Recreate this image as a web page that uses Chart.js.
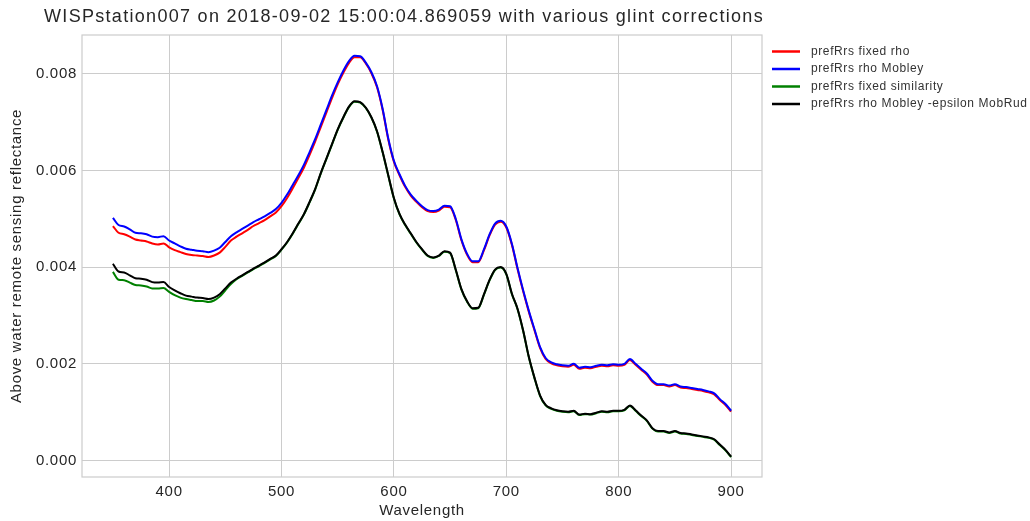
<!DOCTYPE html>
<html>
<head>
<meta charset="utf-8">
<script src="https://cdn.jsdelivr.net/npm/chart.js@4/dist/chart.umd.min.js"></script>
<style>
  html, body { margin: 0; padding: 0; background: #fff; }
  #wrap { width: 1030px; height: 521px; position: relative; }
</style>
</head>
<body>
<div id="wrap"><canvas id="chart"></canvas></div>
<script>
const TITLE = "WISPstation007 on 2018-09-02 15:00:04.869059 with various glint corrections";

const wavelength = [
  350, 355, 360, 365, 370, 375, 380, 385, 390, 395,
  400, 405, 410, 415, 420, 425, 430, 435, 440, 445,
  450, 455, 460, 465, 470, 475, 480, 485, 490, 495,
  500, 505, 510, 515, 520, 525, 530, 535, 540, 545,
  550, 555, 560, 565, 570, 575, 580, 585, 590, 595,
  600, 605, 610, 615, 620, 625, 630, 635, 640, 645,
  650, 655, 660, 665, 670, 675, 680, 685, 690, 695,
  700, 705, 710, 715, 720, 725, 730, 735, 740, 745,
  750, 755, 760, 765, 770, 775, 780, 785, 790, 795,
  800, 805, 810, 815, 820, 825, 830, 835, 840, 845,
  850, 855, 860, 865, 870, 875, 880, 885, 890, 895,
  900,
];

const fixedRho = [
  0.00485, 0.00471, 0.00468, 0.00463, 0.00457, 0.00455, 0.00453, 0.00449, 0.00447, 0.00449,
  0.00441, 0.00435, 0.00431, 0.00427, 0.00425, 0.00424, 0.00423, 0.00421, 0.00424, 0.00430,
  0.00442, 0.00455, 0.00463, 0.00470, 0.00477, 0.00485, 0.00491, 0.00497, 0.00505, 0.00513,
  0.00526, 0.00543, 0.00563, 0.00584, 0.00606, 0.00632, 0.00660, 0.00690, 0.00720, 0.00750,
  0.00778, 0.00802, 0.00822, 0.00834, 0.00834, 0.00821, 0.00801, 0.00772, 0.00725, 0.00664,
  0.00618, 0.00590, 0.00566, 0.00548, 0.00535, 0.00524, 0.00516, 0.00514, 0.00517, 0.00525,
  0.00524, 0.00498, 0.00456, 0.00426, 0.00410, 0.00410, 0.00434, 0.00465, 0.00488, 0.00494,
  0.00482, 0.00446, 0.00396, 0.00350, 0.00308, 0.00270, 0.00233, 0.00210, 0.00201, 0.00197,
  0.00195, 0.00194, 0.00198, 0.00190, 0.00192, 0.00191, 0.00194, 0.00196, 0.00195, 0.00197,
  0.00196, 0.00198, 0.00208, 0.00198, 0.00188, 0.00178, 0.00163, 0.00156, 0.00156, 0.00153,
  0.00156, 0.00151, 0.00150, 0.00148, 0.00146, 0.00144, 0.00141, 0.00137, 0.00125, 0.00115,
  0.00101,
];

const rhoMobley = [
  0.00502, 0.00487, 0.00484, 0.00478, 0.00471, 0.00470, 0.00468, 0.00463, 0.00462, 0.00464,
  0.00455, 0.00449, 0.00443, 0.00438, 0.00436, 0.00434, 0.00433, 0.00431, 0.00434, 0.00440,
  0.00452, 0.00464, 0.00472, 0.00479, 0.00486, 0.00493, 0.00499, 0.00505, 0.00512, 0.00520,
  0.00533, 0.00550, 0.00570, 0.00590, 0.00612, 0.00638, 0.00665, 0.00695, 0.00725, 0.00755,
  0.00782, 0.00806, 0.00826, 0.00837, 0.00836, 0.00823, 0.00803, 0.00774, 0.00727, 0.00666,
  0.00620, 0.00592, 0.00568, 0.00550, 0.00537, 0.00526, 0.00518, 0.00516, 0.00519, 0.00527,
  0.00526, 0.00500, 0.00458, 0.00428, 0.00412, 0.00412, 0.00436, 0.00467, 0.00490, 0.00496,
  0.00484, 0.00448, 0.00398, 0.00352, 0.00310, 0.00272, 0.00235, 0.00212, 0.00203, 0.00199,
  0.00197, 0.00196, 0.00200, 0.00192, 0.00194, 0.00193, 0.00196, 0.00198, 0.00197, 0.00199,
  0.00198, 0.00200, 0.00210, 0.00200, 0.00190, 0.00180, 0.00165, 0.00158, 0.00158, 0.00155,
  0.00158, 0.00153, 0.00152, 0.00150, 0.00148, 0.00146, 0.00143, 0.00139, 0.00127, 0.00117,
  0.00103,
];

const fixedSimilarity = [
  0.00390, 0.00374, 0.00373, 0.00368, 0.00363, 0.00362, 0.00360, 0.00356, 0.00356, 0.00357,
  0.00349, 0.00342, 0.00337, 0.00334, 0.00332, 0.00330, 0.00330, 0.00328, 0.00331, 0.00339,
  0.00352, 0.00365, 0.00375, 0.00382, 0.00389, 0.00396, 0.00402, 0.00409, 0.00416, 0.00423,
  0.00436, 0.00451, 0.00469, 0.00489, 0.00509, 0.00534, 0.00561, 0.00594, 0.00624, 0.00654,
  0.00684, 0.00709, 0.00731, 0.00742, 0.00740, 0.00729, 0.00709, 0.00680, 0.00637, 0.00589,
  0.00542, 0.00509, 0.00487, 0.00469, 0.00451, 0.00436, 0.00423, 0.00419, 0.00423, 0.00432,
  0.00429, 0.00394, 0.00354, 0.00329, 0.00314, 0.00315, 0.00342, 0.00372, 0.00394, 0.00399,
  0.00385, 0.00344, 0.00313, 0.00268, 0.00214, 0.00171, 0.00134, 0.00114, 0.00107, 0.00103,
  0.00101, 0.00100, 0.00102, 0.00094, 0.00096, 0.00095, 0.00098, 0.00101, 0.00100, 0.00102,
  0.00102, 0.00104, 0.00113, 0.00103, 0.00092, 0.00082, 0.00066, 0.00060, 0.00060, 0.00057,
  0.00060, 0.00056, 0.00055, 0.00053, 0.00051, 0.00049, 0.00047, 0.00043, 0.00032, 0.00021,
  0.00007,
];

const mobleyEpsilon = [
  0.00407, 0.00391, 0.00389, 0.00383, 0.00377, 0.00376, 0.00374, 0.00369, 0.00368, 0.00369,
  0.00359, 0.00352, 0.00346, 0.00341, 0.00339, 0.00337, 0.00336, 0.00334, 0.00337, 0.00344,
  0.00356, 0.00368, 0.00376, 0.00383, 0.00390, 0.00397, 0.00403, 0.00410, 0.00417, 0.00424,
  0.00437, 0.00452, 0.00470, 0.00490, 0.00510, 0.00535, 0.00562, 0.00595, 0.00625, 0.00655,
  0.00685, 0.00710, 0.00732, 0.00743, 0.00741, 0.00730, 0.00710, 0.00681, 0.00638, 0.00590,
  0.00543, 0.00510, 0.00488, 0.00470, 0.00452, 0.00437, 0.00424, 0.00420, 0.00424, 0.00433,
  0.00430, 0.00395, 0.00355, 0.00330, 0.00315, 0.00316, 0.00343, 0.00373, 0.00395, 0.00400,
  0.00386, 0.00345, 0.00314, 0.00269, 0.00215, 0.00172, 0.00135, 0.00115, 0.00108, 0.00104,
  0.00102, 0.00101, 0.00103, 0.00095, 0.00097, 0.00096, 0.00099, 0.00102, 0.00101, 0.00103,
  0.00103, 0.00105, 0.00114, 0.00104, 0.00093, 0.00083, 0.00067, 0.00061, 0.00061, 0.00058,
  0.00061, 0.00057, 0.00056, 0.00054, 0.00052, 0.00050, 0.00048, 0.00044, 0.00033, 0.00022,
  0.00008,
];

const seriesLabels = [
  "prefRrs fixed rho",
  "prefRrs rho Mobley",
  "prefRrs fixed similarity",
  "prefRrs rho Mobley -epsilon MobRud",
];
const seriesColors = ["#ff0000", "#0000ff", "#008000", "#000000"];

const xTicks = [400, 500, 600, 700, 800, 900];
const yTicks = [0, 0.002, 0.004, 0.006, 0.008];

const FONT = "'Liberation Sans', Arial, sans-serif";
const TEXT = "#262626";
const GRID = "#cccccc";
const SPACING = "0.7px";

const toPoints = (ys) => ys.map((y, i) => ({ x: wavelength[i], y }));

// frame, title and legend are drawn by hand, matplotlib style
const decorations = {
  id: "decorations",
  beforeLayout(chart) {
    chart.ctx.letterSpacing = SPACING;
  },
  beforeDraw(chart) {
    chart.ctx.letterSpacing = SPACING;
  },
  beforeDatasetsDraw(chart) {
    const { ctx, chartArea: a } = chart;
    ctx.save();
    ctx.strokeStyle = GRID;
    ctx.lineWidth = 1.2;
    ctx.strokeRect(a.left, a.top, a.right - a.left, a.bottom - a.top);
    ctx.restore();
  },
  afterDraw(chart) {
    const { ctx } = chart;
    ctx.save();
    ctx.fillStyle = TEXT;
    ctx.font = `18px ${FONT}`;
    ctx.letterSpacing = "1.3px";
    ctx.textAlign = "center";
    ctx.textBaseline = "middle";
    ctx.fillText(TITLE, 404, 17);

    ctx.font = `12px ${FONT}`;
    ctx.letterSpacing = "0.6px";
    ctx.textAlign = "left";
    chart.data.datasets.forEach((ds, i) => {
      const y = 51.5 + i * 17.5;
      ctx.strokeStyle = ds.borderColor;
      ctx.lineWidth = 2.5;
      ctx.beginPath();
      ctx.moveTo(772, y);
      ctx.lineTo(800, y);
      ctx.stroke();
      ctx.fillStyle = "#333333";
      ctx.fillText(ds.label, 811, y);
    });
    ctx.restore();
  },
};

new Chart(document.getElementById("chart"), {
  type: "line",
  data: {
    datasets: seriesLabels.map((label, i) => ({
      label,
      data: toPoints([fixedRho, rhoMobley, fixedSimilarity, mobleyEpsilon][i]),
      borderColor: seriesColors[i],
      borderWidth: 2,
      pointRadius: 0,
      cubicInterpolationMode: "monotone",
      order: 4 - i,
    })),
  },
  options: {
    responsive: true,
    maintainAspectRatio: false,
    animation: false,
    layout: { padding: { left: 0, top: 35, right: 268, bottom: 0 } },
    plugins: {
      legend: { display: false },
      title: { display: false },
      tooltip: { enabled: false },
    },
    scales: {
      x: {
        type: "linear",
        min: 322.5,
        max: 927.5,
        afterBuildTicks: (s) => { s.ticks = xTicks.map((v) => ({ value: v })); },
        afterFit: (s) => { s.height = 44; },
        grid: { color: GRID, drawTicks: false },
        border: { display: false },
        ticks: { color: TEXT, font: { family: FONT, size: 15 }, padding: 6, maxRotation: 0 },
        title: {
          display: true,
          text: "Wavelength",
          color: TEXT,
          font: { family: FONT, size: 15 },
          padding: { top: 0, bottom: 1 },
        },
      },
      y: {
        type: "linear",
        min: -0.00034,
        max: 0.0088,
        afterBuildTicks: (s) => { s.ticks = yTicks.map((v) => ({ value: v })); },
        afterFit: (s) => { s.width = 82; },
        grid: { color: GRID, drawTicks: false },
        border: { display: false },
        ticks: {
          color: TEXT,
          font: { family: FONT, size: 15 },
          padding: 5,
          callback: (v) => v.toFixed(3),
        },
        title: {
          display: true,
          text: "Above water remote sensing reflectance",
          color: TEXT,
          font: { family: FONT, size: 15 },
          padding: { top: 8, bottom: 0 },
        },
      },
    },
  },
  plugins: [decorations],
});
</script>
</body>
</html>
